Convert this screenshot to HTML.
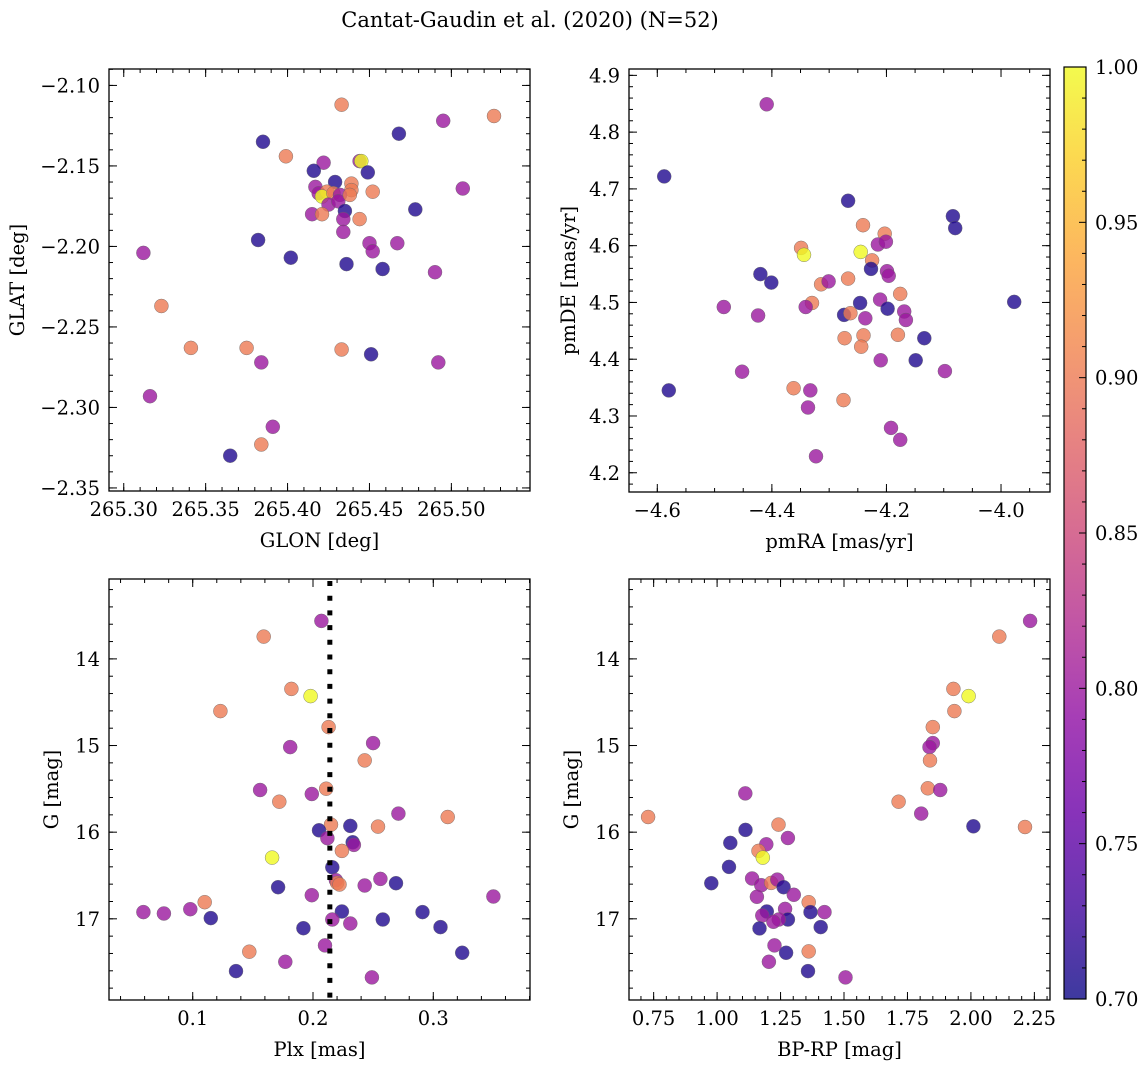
<!DOCTYPE html>
<html><head><meta charset="utf-8">
<style>
html,body{margin:0;padding:0;background:#fff;}
svg{display:block;font-family:"DejaVu Serif","Liberation Serif",serif;}
</style></head>
<body>
<svg id="fig" width="1148" height="1067" viewBox="0 0 1148 1067" xmlns="http://www.w3.org/2000/svg">
<defs>
<linearGradient id="plasmaGrad" x1="0" y1="1" x2="0" y2="0">
<stop offset="0" stop-color="#0d0887"/><stop offset="0.1" stop-color="#41049d"/><stop offset="0.2" stop-color="#6a00a8"/><stop offset="0.3" stop-color="#8f0da4"/><stop offset="0.4" stop-color="#b12a90"/><stop offset="0.5" stop-color="#cc4778"/><stop offset="0.6" stop-color="#e16462"/><stop offset="0.7" stop-color="#f2844b"/><stop offset="0.8" stop-color="#fca636"/><stop offset="0.9" stop-color="#fcce25"/><stop offset="1" stop-color="#f0f921"/>
</linearGradient>
</defs>
<text x="530" y="27" font-size="21" text-anchor="middle">Cantat-Gaudin et al. (2020) (N=52)</text>
</svg>
<script>
// ---- data (probability classes: 0.71 dark, 0.80 purple, 0.90 orange, 1.00 yellow) ----
const p1Glon = [265.433,265.526,265.495,265.468,265.385,265.399,265.422,265.444,265.445,265.416,265.449,265.429,265.439,265.507,265.417,265.452,265.439,265.419,265.424,265.421,265.428,265.432,265.425,265.431,265.435,265.478,265.415,265.421,265.434,265.444,265.434,265.382,265.450,265.467,265.452,265.312,265.402,265.436,265.458,265.490,265.323,265.341,265.375,265.433,265.451,265.384,265.492,265.316,265.391,265.384,265.365,265.438];
const p1Glat = [-2.112,-2.119,-2.122,-2.130,-2.135,-2.144,-2.148,-2.147,-2.147,-2.153,-2.154,-2.160,-2.161,-2.164,-2.163,-2.166,-2.165,-2.167,-2.166,-2.169,-2.167,-2.168,-2.174,-2.172,-2.178,-2.177,-2.180,-2.180,-2.183,-2.183,-2.191,-2.196,-2.198,-2.198,-2.203,-2.204,-2.207,-2.211,-2.214,-2.216,-2.237,-2.263,-2.263,-2.264,-2.267,-2.272,-2.272,-2.293,-2.312,-2.323,-2.330,-2.168];
const p1Prob = [0.90,0.90,0.80,0.71,0.71,0.90,0.80,0.80,1.00,0.71,0.71,0.71,0.90,0.80,0.80,0.90,0.90,0.80,0.90,1.00,0.90,0.80,0.80,0.80,0.71,0.71,0.80,0.90,0.80,0.90,0.80,0.71,0.80,0.80,0.80,0.80,0.71,0.71,0.71,0.80,0.90,0.90,0.90,0.90,0.71,0.80,0.80,0.80,0.80,0.90,0.71,0.90];

const p2PmRA = [-4.409,-4.588,-4.267,-4.084,-4.080,-4.241,-4.203,-4.349,-4.344,-4.215,-4.201,-4.245,-4.225,-4.227,-4.199,-4.196,-4.420,-4.401,-4.314,-4.301,-4.267,-4.176,-4.211,-4.246,-4.330,-4.341,-4.484,-4.198,-4.424,-4.274,-4.263,-4.169,-4.237,-4.166,-4.240,-4.180,-4.273,-4.244,-4.134,-4.149,-4.210,-3.977,-4.452,-4.098,-4.362,-4.333,-4.580,-4.337,-4.275,-4.192,-4.176,-4.323];
const p2PmDE = [4.849,4.722,4.679,4.652,4.631,4.636,4.621,4.596,4.584,4.602,4.607,4.589,4.574,4.559,4.555,4.547,4.550,4.535,4.532,4.537,4.542,4.515,4.505,4.499,4.499,4.492,4.492,4.489,4.477,4.478,4.481,4.484,4.472,4.469,4.442,4.443,4.437,4.422,4.437,4.398,4.398,4.501,4.378,4.379,4.349,4.345,4.345,4.315,4.328,4.279,4.258,4.229];
const p2Prob = [0.80,0.71,0.71,0.71,0.71,0.90,0.90,0.90,1.00,0.80,0.80,1.00,0.90,0.71,0.80,0.80,0.71,0.71,0.90,0.80,0.90,0.90,0.80,0.71,0.90,0.80,0.80,0.71,0.80,0.71,0.90,0.80,0.80,0.80,0.90,0.90,0.90,0.90,0.71,0.71,0.80,0.71,0.80,0.80,0.90,0.80,0.71,0.80,0.90,0.80,0.80,0.80];

const p3Plx = [0.207,0.159,0.182,0.198,0.123,0.213,0.250,0.181,0.243,0.156,0.211,0.199,0.172,0.271,0.312,0.215,0.231,0.254,0.205,0.212,0.233,0.234,0.224,0.166,0.216,0.256,0.171,0.269,0.219,0.243,0.220,0.222,0.199,0.350,0.110,0.059,0.076,0.098,0.115,0.224,0.291,0.216,0.231,0.258,0.192,0.306,0.210,0.147,0.324,0.177,0.136,0.249];
const p3G = [13.562,13.743,14.346,14.430,14.603,14.787,14.972,15.018,15.172,15.513,15.498,15.560,15.648,15.786,15.825,15.913,15.928,15.936,15.978,16.070,16.117,16.147,16.216,16.293,16.405,16.539,16.635,16.589,16.554,16.616,16.585,16.604,16.727,16.743,16.808,16.923,16.939,16.889,16.992,16.916,16.923,17.008,17.054,17.008,17.108,17.096,17.307,17.380,17.392,17.496,17.603,17.676];
const p3Prob = [0.80,0.90,0.90,1.00,0.90,0.90,0.80,0.80,0.90,0.80,0.90,0.80,0.90,0.80,0.90,0.90,0.71,0.90,0.71,0.80,0.71,0.80,0.90,1.00,0.71,0.80,0.71,0.71,0.80,0.80,0.90,0.90,0.80,0.80,0.90,0.80,0.80,0.80,0.71,0.71,0.71,0.80,0.80,0.71,0.71,0.71,0.80,0.90,0.71,0.80,0.71,0.80];
const plxMean = 0.214;

const p4BpRp = [2.233,2.112,1.931,1.991,1.935,1.850,1.850,1.837,1.839,1.111,1.830,1.879,1.715,1.804,0.728,2.010,2.213,1.242,1.112,1.279,1.052,1.194,1.163,1.180,1.047,0.977,1.138,1.174,1.213,1.237,1.262,1.302,1.157,1.361,1.268,1.196,1.368,1.423,1.178,1.279,1.243,1.222,1.167,1.408,1.226,1.361,1.272,1.204,1.358,1.506];
const p4G = [13.562,13.743,14.346,14.430,14.603,14.787,14.972,15.018,15.172,15.552,15.494,15.513,15.648,15.786,15.825,15.932,15.940,15.913,15.974,16.067,16.124,16.140,16.216,16.293,16.401,16.589,16.535,16.612,16.585,16.547,16.635,16.723,16.746,16.808,16.885,16.916,16.923,16.923,16.962,17.008,17.008,17.035,17.111,17.096,17.307,17.376,17.392,17.496,17.603,17.676];
const p4Prob = [0.80,0.90,0.90,1.00,0.90,0.90,0.80,0.80,0.90,0.80,0.90,0.80,0.90,0.80,0.90,0.71,0.90,0.90,0.71,0.80,0.71,0.80,0.90,1.00,0.71,0.71,0.80,0.80,0.90,0.80,0.71,0.80,0.80,0.90,0.80,0.71,0.71,0.80,0.80,0.71,0.80,0.80,0.71,0.71,0.80,0.90,0.71,0.80,0.71,0.80];

const p1XTicks = ["265.30","265.35","265.40","265.45","265.50"];
const p1YTicks = ["−2.10","−2.15","−2.20","−2.25","−2.30","−2.35"];
const p2XTicks = ["−4.6","−4.4","−4.2","−4.0"];
const p2YTicks = ["4.2","4.3","4.4","4.5","4.6","4.7","4.8","4.9"];
const p3XTicks = ["0.1","0.2","0.3"];
const gTicks = ["14","15","16","17"];
const p4XTicks = ["0.75","1.00","1.25","1.50","1.75","2.00","2.25"];
const cbTicks = ["0.70","0.75","0.80","0.85","0.90","0.95","1.00"];

// ---- rendering ----
const NS="http://www.w3.org/2000/svg";
const svg=document.getElementById('fig');
const TF=19.5, LF=19.5;
function mk(tag,attrs,parent){const e=document.createElementNS(NS,tag);for(const k in attrs)e.setAttribute(k,attrs[k]);(parent||svg).appendChild(e);return e;}
const stops=[[13,8,135],[65,4,157],[106,0,168],[143,13,164],[177,42,144],[204,71,120],[225,100,98],[242,132,75],[252,166,54],[252,206,37],[240,249,33]];
function plasma(t){t=Math.max(0,Math.min(1,t));const f=t*10,i=Math.min(9,Math.floor(f)),u=f-i;const a=stops[i],b=stops[i+1];return 'rgb('+a.map((v,k)=>Math.round(v+(b[k]-v)*u)).join(',')+')';}
function pcol(p){return plasma((p-0.7)/0.3);}
function num(s){return parseFloat(s.replace('−','-'));}

function panel(name,box,xd,yd,xt,yt,xminor,yminor,xlab,ylab,ylabX,xs,ys,ps){
  const [L,T,R,B]=box;
  const sx=v=>L+(v-xd[0])/(xd[1]-xd[0])*(R-L);
  const sy=v=>T+(v-yd[0])/(yd[1]-yd[0])*(B-T);
  const g=mk('g',{});
  
  
  const pts=mk('g',{},g);
  
  
  for(let i=0;i<xs.length;i++){
    const c=mk('circle',{cx:sx(xs[i]).toFixed(1),cy:sy(ys[i]).toFixed(1),r:7,fill:pcol(ps[i]),'fill-opacity':0.8,stroke:'#666','stroke-width':0.5,'stroke-opacity':0.8},pts);
    
    
  }
  const ax=mk('g',{stroke:'#000','stroke-width':1},g);
  const lo=Math.min(xd[0],xd[1]),hi=Math.max(xd[0],xd[1]);
  for(let v=Math.ceil(lo/xminor-1e-6)*xminor;v<=hi+1e-9;v+=xminor){const x=sx(v);mk('line',{x1:x,x2:x,y1:B,y2:B-4},ax);mk('line',{x1:x,x2:x,y1:T,y2:T+4},ax);}
  const ylo=Math.min(yd[0],yd[1]),yhi=Math.max(yd[0],yd[1]);
  for(let v=Math.ceil(ylo/yminor-1e-6)*yminor;v<=yhi+1e-9;v+=yminor){const y=sy(v);mk('line',{x1:L,x2:L+4,y1:y,y2:y},ax);mk('line',{x1:R,x2:R-4,y1:y,y2:y},ax);}
  xt.forEach(s=>{const x=sx(num(s));mk('line',{x1:x,x2:x,y1:B,y2:B-8},ax);mk('line',{x1:x,x2:x,y1:T,y2:T+8},ax);
    const t=mk('text',{x:x,y:B+25,'font-size':TF,'text-anchor':'middle'},g);t.textContent=s;
    });
  yt.forEach(s=>{const y=sy(num(s));mk('line',{x1:L,x2:L+8,y1:y,y2:y},ax);mk('line',{x1:R,x2:R-8,y1:y,y2:y},ax);
    const t=mk('text',{x:L-9,y:y+7,'font-size':TF,'text-anchor':'end'},g);t.textContent=s;
    });
  const fr=mk('rect',{x:L,y:T,width:R-L,height:B-T,fill:'none',stroke:'#000','stroke-width':1.3},g);
  
  const xl=mk('text',{x:(L+R)/2,y:B+56,'font-size':LF,'text-anchor':'middle'},g);xl.textContent=xlab;
  
  const yl=mk('text',{x:ylabX,y:(T+B)/2,'font-size':LF,'text-anchor':'middle',transform:'rotate(-90 '+ylabX+' '+(T+B)/2+')'},g);yl.textContent=ylab;
  
  return {sx,sy,g};
}

panel('glon-glat-panel',[109,69,530,491],[265.291,265.548],[-2.0898,-2.3519],p1XTicks,p1YTicks,0.01,0.01,'GLON [deg]','GLAT [deg]',24,p1Glon,p1Glat,p1Prob);
panel('pm-panel',[629,69,1050,492],[-4.6494,-3.9145],[4.9112,4.1661],p2XTicks,p2YTicks,0.05,0.02,'pmRA [mas/yr]','pmDE [mas/yr]',575,p2PmRA,p2PmDE,p2Prob);
const p3=panel('plx-g-panel',[109,579,530,1000],[0.0304,0.3804],[13.078,17.937],p3XTicks,gTicks,0.02,0.2,'Plx [mas]','G [mag]',58,p3Plx,p3G,p3Prob);
panel('cmd-panel',[629,579,1050,1000],[0.6529,2.3116],[13.078,17.937],p4XTicks,gTicks,0.05,0.2,'BP-RP [mag]','G [mag]',578,p4BpRp,p4G,p4Prob);

const ml=mk('line',{x1:p3.sx(plxMean),x2:p3.sx(plxMean),y1:581,y2:999,stroke:'#000','stroke-width':5,'stroke-dasharray':'5 9.7'});



const cb=mk('g',{});


const cT=67,cB=999,cL=1064,cR=1086;
const cy=v=>cB-(v-0.7)/0.3*(cB-cT);
mk('rect',{x:cL,y:cT,width:cR-cL,height:cB-cT,fill:'url(#plasmaGrad)','fill-opacity':0.8},cb);
mk('rect',{x:cL,y:cT,width:cR-cL,height:cB-cT,fill:'none',stroke:'#000','stroke-width':1.2},cb);
for(let i=0;i<=30;i++){const y=cy(0.7+i*0.01);mk('line',{x1:cR,x2:cR-(i%5===0?7:4),y1:y,y2:y,stroke:'#000','stroke-width':1},cb);}
cbTicks.forEach(s=>{const t=mk('text',{x:1095,y:cy(num(s))+7,'font-size':TF},cb);t.textContent=s;
  });
</script>
</body></html>
